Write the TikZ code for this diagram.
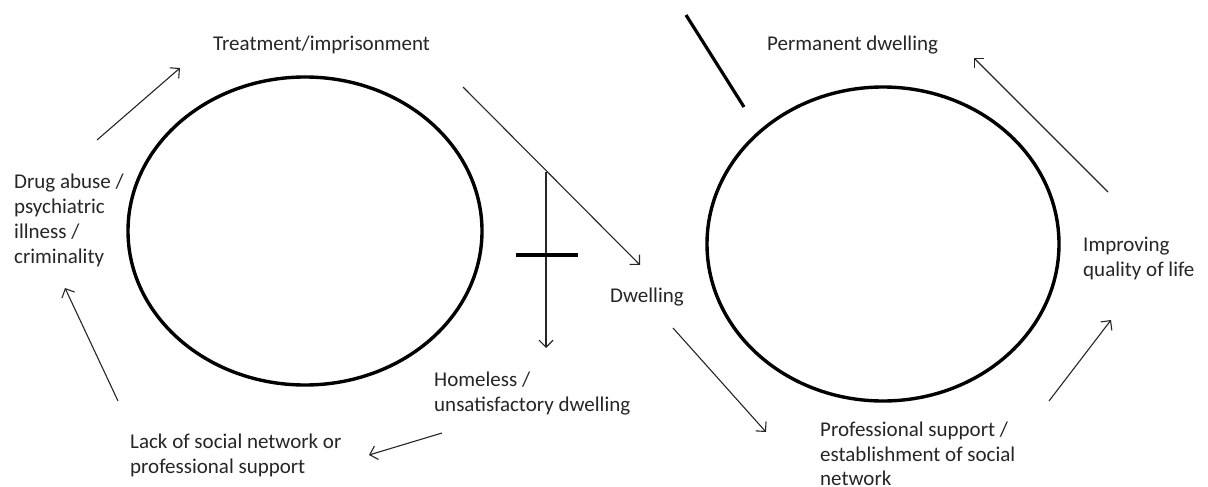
\documentclass[tikz,border=0pt]{standalone}
\usepackage{fontspec}
\setmainfont{Carlito}
\usetikzlibrary{arrows.meta,shapes.geometric}
\begin{document}
\begin{tikzpicture}[x=1pt,y=-1pt,
  lbl/.style={anchor=base west,inner sep=0pt,align=left,text=black!85,
    font=\fontsize{21}{25}\selectfont},
  ring/.style={draw=black,line width=3.4pt},
  flow/.style={draw=black!85,line width=1.1pt,-{Straight Barb[length=7pt,width=14pt,line width=1.1pt]}},
  bar/.style={draw=black,line width=3.2pt}]
\fill[white] (0,0) rectangle (1208,487);
\useasboundingbox (0,0) rectangle (1208,487);
% circles
\node[ring,ellipse,minimum width=354pt,minimum height=308pt,inner sep=0pt] (L) at (305,231) {};
\node[ring,ellipse,minimum width=352pt,minimum height=314pt,inner sep=0pt] (R) at (883,244) {};
% labels
\node[lbl] (treat) at (213,51) {Treatment/imprisonment};
\node[lbl] (perm) at (767,51) {Permanent dwelling};
\node[lbl,anchor=north west] (drug) at (14,174) {Drug abuse /\\psychiatric\\illness /\\criminality};
\node[lbl,anchor=north west] (lack) at (130,434) {Lack of social network or\\professional support};
\node[lbl,anchor=north west] (home) at (434,372) {Homeless /\\unsatisfactory dwelling};
\node[lbl] (dwell) at (610,302) {Dwelling};
\node[lbl,anchor=north west] (impr) at (1083,237) {Improving\\quality of life};
\node[lbl,anchor=north west,font=\fontsize{21}{24.5}\selectfont] (prof) at (820,422) {Professional support /\\establishment of social\\network};
% arrow coordinates
\coordinate (a1s) at (97,140);  \coordinate (a1e) at (180,68);
\coordinate (a2s) at (463,87);  \coordinate (a2e) at (640,265);
\coordinate (a3s) at (546,172); \coordinate (a3e) at (546,348);
\coordinate (a4s) at (673,328); \coordinate (a4e) at (766,432);
\coordinate (a5s) at (442,433); \coordinate (a5e) at (369,455);
\coordinate (a6s) at (118,401); \coordinate (a6e) at (65,288);
\coordinate (a7s) at (1049,401); \coordinate (a7e) at (1111,320);
\coordinate (a8s) at (1108,192); \coordinate (a8e) at (974,58);
\coordinate (b1s) at (516,255); \coordinate (b1e) at (578,255);
\coordinate (b2s) at (686,15);  \coordinate (b2e) at (744,107);
% arrows
\draw[flow] (a1s) -- (a1e);
\draw[flow] (a2s) -- (a2e);
\draw[flow] (a3s) -- (a3e);
\draw[flow] (a4s) -- (a4e);
\draw[flow] (a5s) -- (a5e);
\draw[flow] (a6s) -- (a6e);
\draw[flow] (a7s) -- (a7e);
\draw[flow] (a8s) -- (a8e);
% bars
\draw[bar] (b1s) -- (b1e);
\draw[bar] (b2s) -- (b2e);
\end{tikzpicture}
\end{document}
